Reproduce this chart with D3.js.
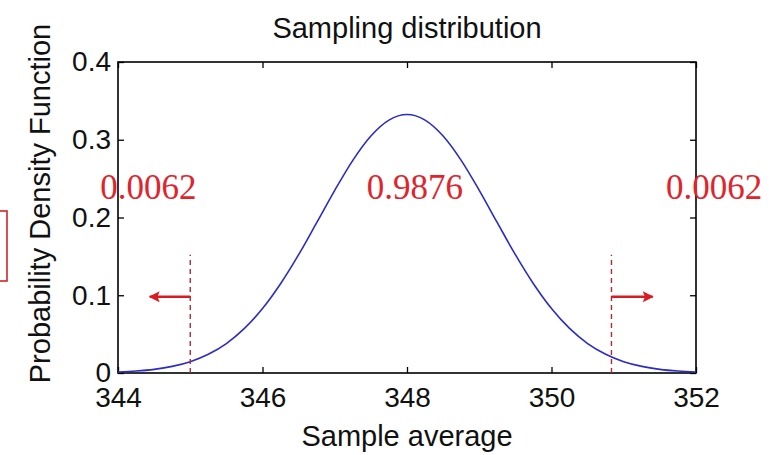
<!DOCTYPE html>
<html>
<head>
<meta charset="utf-8">
<script src="https://cdn.jsdelivr.net/npm/d3@7"></script>
<style>
body { margin: 0; background: #fff; }
text { font-family: "Liberation Sans", Arial, sans-serif; }
</style>
</head>
<body>
<script>
// sample average (x) and density
var xs = [344, 344.25, 344.5, 344.75, 345, 345.25, 345.5, 345.75, 346, 346.25, 346.5, 346.75, 347, 347.25, 347.5, 347.75,
          348, 348.25, 348.5, 348.75, 349, 349.25, 349.5, 349.75, 350, 350.25, 350.5, 350.75, 351, 351.25, 351.5, 351.75, 352]
var ys = [0.0013, 0.0025, 0.0047, 0.0085, 0.0146, 0.0241, 0.0379, 0.0573, 0.0829, 0.1148, 0.1522, 0.1933, 0.2349, 0.2735, 0.3048, 0.3253,
          0.3325, 0.3253, 0.3048, 0.2735, 0.2349, 0.1933, 0.1522, 0.1148, 0.0829, 0.0573, 0.0379, 0.0241, 0.0146, 0.0085, 0.0047, 0.0025, 0.0013]
var xTicks = [344, 346, 348, 350, 352]
var yTicks = [0, 0.1, 0.2, 0.3, 0.4]
var cutoffs = [345, 350.83]          // dashed lines
var cutTop = 0.152
var arrows = [[345, 344.44], [350.83, 351.4]]
var arrowY = 0.098
var labels = ["0.0062", "0.9876", "0.0062"]
var labelX = [344.42, 348.11, 352.25]
var labelY = 0.239

var width = 769, height = 455
var margin = {top: 62, left: 118, bottom: 82, right: 73}
var chartWidth = width - margin.left - margin.right
var chartHeight = height - margin.top - margin.bottom

var svg = d3.select("body").append("svg").attr("width", width).attr("height", height)

svg.append("defs").append("marker")
    .attr("id", "head").attr("viewBox", "0 0 10 10").attr("refX", 9).attr("refY", 5)
    .attr("markerUnits", "userSpaceOnUse")
    .attr("markerWidth", 14).attr("markerHeight", 11).attr("orient", "auto")
    .append("path").attr("d", "M0,0 L10,5 L0,10 L2,5 z").attr("fill", "#e01820")

var g = svg.append("g").attr("transform", "translate(" + [margin.left, margin.top] + ")")

var x = d3.scaleLinear().domain([344, 352]).range([0, chartWidth])
var y = d3.scaleLinear().domain([0, 0.4]).range([chartHeight, 0])

// axes with inward ticks, mirrored on top/right
function styleAxis(sel, fs) {
    sel.select(".domain").remove()
    sel.selectAll("line").attr("stroke", "#000").attr("stroke-width", 1.3)
    sel.selectAll("text").attr("font-size", fs).attr("fill", "#111")
}
g.append("g").attr("transform", "translate(0," + chartHeight + ")")
    .call(d3.axisBottom(x).tickValues(xTicks).tickFormat(d3.format("d")).tickSizeInner(-6).tickPadding(14))
    .call(styleAxis, 28)
g.append("g")
    .call(d3.axisLeft(y).tickValues(yTicks).tickFormat(function(d){ return d === 0 ? "0" : d3.format(".1f")(d) }).tickSizeInner(-6).tickPadding(7))
    .call(styleAxis, 28)
g.append("g").call(d3.axisTop(x).tickValues(xTicks).tickFormat("").tickSizeInner(-6)).call(styleAxis, 28)
g.append("g").attr("transform", "translate(" + chartWidth + ",0)")
    .call(d3.axisRight(y).tickValues(yTicks).tickFormat("").tickSizeInner(-6)).call(styleAxis, 28)

g.append("rect").attr("width", chartWidth).attr("height", chartHeight)
    .attr("fill", "none").attr("stroke", "#000").attr("stroke-width", 1.6)

// density curve
var line = d3.line().x(function(d){ return x(d[0]) }).y(function(d){ return y(d[1]) }).curve(d3.curveMonotoneX)
g.append("path").datum(d3.zip(xs, ys)).attr("d", line)
    .attr("fill", "none").attr("stroke", "#2b2bc8").attr("stroke-width", 1.6)

// cutoffs
g.selectAll(".cut").data(cutoffs).enter().append("line").attr("class", "cut")
    .attr("x1", function(d){ return x(d) }).attr("x2", function(d){ return x(d) })
    .attr("y1", y(0)).attr("y2", y(cutTop))
    .attr("stroke", "#b02a34").attr("stroke-width", 1.4).attr("stroke-dasharray", "5,4")

g.selectAll(".arr").data(arrows).enter().append("line").attr("class", "arr")
    .attr("x1", function(d){ return x(d[0]) }).attr("x2", function(d){ return x(d[1]) })
    .attr("y1", y(arrowY)).attr("y2", y(arrowY))
    .attr("stroke", "#d81c24").attr("stroke-width", 2.4).attr("marker-end", "url(#head)")

g.selectAll(".lab").data(labels).enter().append("text").attr("class", "lab")
    .attr("x", function(d, i){ return x(labelX[i]) }).attr("y", y(labelY))
    .attr("text-anchor", "middle").attr("dominant-baseline", "central")
    .style("font-family", "'Liberation Serif', 'Times New Roman', serif")
    .attr("font-size", 35).attr("fill", "#e0242c").text(function(d){ return d })

// titles
svg.append("text").attr("x", margin.left + chartWidth / 2).attr("y", 38)
    .attr("text-anchor", "middle").attr("font-size", 29).attr("fill", "#111").text("Sampling distribution")
svg.append("text").attr("x", margin.left + chartWidth / 2).attr("y", 446)
    .attr("text-anchor", "middle").attr("font-size", 29).attr("fill", "#111").text("Sample average")
svg.append("text").attr("transform", "translate(50," + (margin.top + chartHeight / 2 - 14) + ") rotate(-90)")
    .attr("text-anchor", "middle").attr("font-size", 29).attr("fill", "#111").text("Probability Density Function")

// partial red box at the left edge
svg.append("rect").attr("x", -20).attr("y", 211).attr("width", 27).attr("height", 70)
    .attr("fill", "none").attr("stroke", "#d0242c").attr("stroke-width", 1.6)
</script>
</body>
</html>
